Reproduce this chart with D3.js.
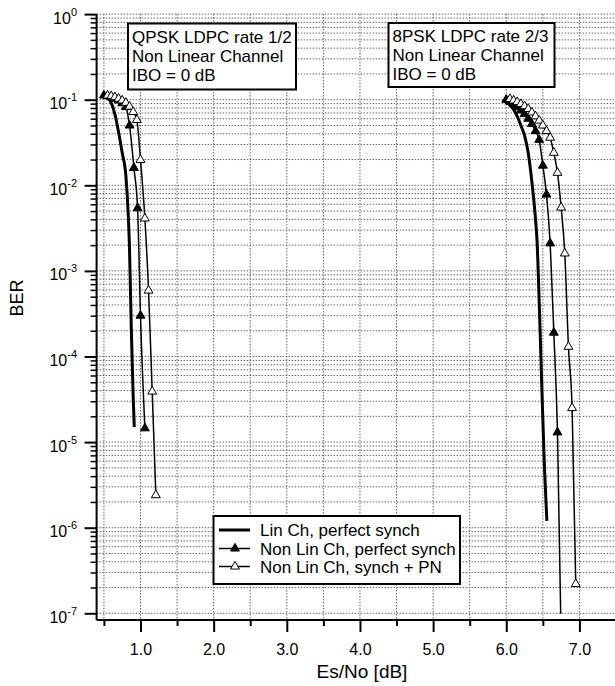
<!DOCTYPE html>
<html>
<head>
<meta charset="utf-8">
<script src="https://cdn.jsdelivr.net/npm/d3@7"></script>
<style>
  body { margin: 0; background: #fff; }
  text { font-family: "Liberation Sans", Arial, sans-serif; fill: #000; }
</style>
</head>
<body>
<div class="chart"></div>
<script>
// QPSK LDPC 1/2 curves
const qpskLinEsNo = [0.5, 0.55, 0.6, 0.65, 0.7, 0.75, 0.8, 0.83, 0.85, 0.875, 0.9, 0.915]
const qpskLinBer = [0.113, 0.106, 0.092, 0.068, 0.042, 0.024, 0.013, 5e-3, 1.8e-3, 2e-4, 3.4e-5, 1.5e-5]

const qpskNlEsNo = [0.5, 0.55, 0.6, 0.65, 0.7, 0.75, 0.8, 0.85, 0.91, 0.96, 1.0, 1.06]
const qpskNlBer = [0.112, 0.110, 0.107, 0.103, 0.098, 0.091, 0.082, 0.05, 0.016, 5.4e-3, 3.0e-4, 1.45e-5]

const qpskPnEsNo = [0.55, 0.6, 0.65, 0.7, 0.75, 0.8, 0.85, 0.9, 0.95, 1.0, 1.06, 1.11, 1.16, 1.21]
const qpskPnBer = [0.112, 0.110, 0.107, 0.103, 0.098, 0.092, 0.083, 0.072, 0.058, 0.0198, 4.1e-3, 5.9e-4, 3.9e-5, 2.4e-6]

// 8PSK LDPC 2/3 curves
const psk8LinEsNo = [5.95, 6.0, 6.05, 6.1, 6.15, 6.2, 6.25, 6.3, 6.35, 6.4, 6.42, 6.455, 6.49, 6.52, 6.555]
const psk8LinBer = [0.1, 0.094, 0.087, 0.077, 0.064, 0.05, 0.038, 0.024, 0.011, 4e-3, 2.3e-3, 3.2e-4, 3.4e-5, 5.6e-6, 1.2e-6]

const psk8NlEsNo = [6.0, 6.05, 6.1, 6.15, 6.2, 6.25, 6.3, 6.35, 6.4, 6.45, 6.5, 6.55, 6.6, 6.65, 6.7, 6.75]
const psk8NlBer = [0.1, 0.095, 0.089, 0.082, 0.075, 0.068, 0.06, 0.052, 0.043, 0.034, 0.017, 7.8e-3, 2.1e-3, 1.9e-4, 1.3e-5, 5e-8]

const psk8PnEsNo = [6.05, 6.1, 6.15, 6.2, 6.25, 6.3, 6.35, 6.4, 6.45, 6.5, 6.55, 6.6, 6.65, 6.7, 6.75, 6.8, 6.85, 6.9, 6.95]
const psk8PnBer = [0.102, 0.098, 0.094, 0.089, 0.084, 0.078, 0.071, 0.064, 0.057, 0.05, 0.043, 0.036, 0.024, 0.014, 5.5e-3, 1.6e-3, 1.3e-4, 2.5e-5, 2.2e-7]

const xTicks = [1, 2, 3, 4, 5, 6, 7]
const xMinorTicks = [0.5, 1.5, 2.5, 3.5, 4.5, 5.5, 6.5, 7.5]
const yExponents = [0, -1, -2, -3, -4, -5, -6, -7]

const legendLabels = ['Lin Ch, perfect synch', 'Non Lin Ch, perfect synch', 'Non Lin Ch, synch + PN']
const boxQpsk = ['QPSK LDPC rate 1/2', 'Non Linear Channel', 'IBO = 0 dB']
const box8psk = ['8PSK LDPC rate 2/3', 'Non Linear Channel', 'IBO = 0 dB']

const svg = d3.select('.chart').append('svg')
  .attr('width', 615)
  .attr('height', 686)

const plotLeft = 96.6, plotRight = 616, plotTop = 14, plotBottom = 620

const x = d3.scaleLinear()
  .domain([0.4, 7.5])
  .range([plotLeft, plotRight])

const y = d3.scaleLog()
  .domain([1e-7, 1])
  .range([613.3, 14.1])

// grid: every 0.5 dB, every 1..9 per decade
const minorY = []
yExponents.forEach(e => {
  for (let k = 1; k < 10; k++) {
    const v = k * Math.pow(10, e - 1)
    if (v >= 1e-7) minorY.push(v)
  }
})
minorY.push(1)

const grid = svg.append('g')
  .attr('stroke', '#666')
  .attr('stroke-width', 1)
  .attr('stroke-dasharray', '1.5,1.5')

grid.selectAll('.gx')
  .data(xTicks.concat(xMinorTicks))
  .enter().append('line')
  .attr('x1', d => x(d)).attr('x2', d => x(d))
  .attr('y1', plotTop).attr('y2', plotBottom)

grid.selectAll('.gy')
  .data(minorY)
  .enter().append('line')
  .attr('x1', plotLeft).attr('x2', plotRight)
  .attr('y1', d => y(d)).attr('y2', d => y(d))

// axes
const xAxis = svg.append('g')
  .attr('transform', `translate(0, ${plotBottom})`)
  .call(d3.axisBottom(x).tickValues(xTicks).tickSize(12).tickFormat(d3.format('.1f')))
xAxis.select('.domain').attr('stroke-width', 2).attr('d', `M${plotLeft},0H${plotRight}`)
xAxis.selectAll('.tick line').attr('stroke-width', 2)
xAxis.selectAll('.tick text')
  .attr('y', 24)
  .attr('dy', '0.71em')
  .style('font-size', '16px')
  .style('font-family', '"Liberation Sans", Arial, sans-serif')

svg.append('g')
  .attr('transform', `translate(0, ${plotBottom})`)
  .call(d3.axisBottom(x).tickValues(xMinorTicks).tickSize(6).tickFormat(''))
  .call(g => g.select('.domain').remove())
  .selectAll('.tick line').attr('stroke-width', 2)

const yAxis = svg.append('g')
  .attr('transform', `translate(${plotLeft}, 0)`)
  .call(d3.axisLeft(y).tickValues(yExponents.map(e => Math.pow(10, e))).tickSize(12).tickFormat(''))
yAxis.select('.domain').attr('stroke-width', 2).attr('d', `M0,${plotTop}V${plotBottom}`)
yAxis.selectAll('.tick line').attr('stroke-width', 2)

svg.append('g')
  .attr('transform', `translate(${plotLeft}, 0)`)
  .call(d3.axisLeft(y).tickValues(minorY.filter(v => Math.abs(Math.log10(v) % 1) > 1e-9)).tickSize(6).tickFormat(''))
  .call(g => g.select('.domain').remove())
  .selectAll('.tick line').attr('stroke-width', 1.5)

const yLabels = svg.append('g')
  .selectAll('text')
  .data(yExponents)
  .enter().append('text')
  .attr('x', 77)
  .attr('y', d => y(Math.pow(10, d)) + 9.5)
  .attr('text-anchor', 'end')
  .style('font-size', '16px')
yLabels.append('tspan').text('10')
yLabels.append('tspan')
  .attr('dy', -8)
  .style('font-size', '11px')
  .text(d => d)

svg.append('text')
  .attr('x', 362)
  .attr('y', 678)
  .attr('text-anchor', 'middle')
  .style('font-size', '19px')
  .text('Es/No [dB]')

svg.append('text')
  .attr('transform', 'translate(23, 298) rotate(-90)')
  .attr('text-anchor', 'middle')
  .style('font-size', '18px')
  .text('BER')

// curves
svg.append('clipPath').attr('id', 'plotclip')
  .append('rect')
  .attr('x', plotLeft).attr('y', 0)
  .attr('width', plotRight - plotLeft).attr('height', y(1e-7) + 0.5)

const plot = svg.append('g').attr('clip-path', 'url(#plotclip)')

const line = d3.line()
  .x(d => x(d[0]))
  .y(d => y(d[1]))
  .curve(d3.curveMonotoneX)

const zip = (a, b) => a.map((v, i) => [v, b[i]])

const series = [
  {pts: zip(qpskLinEsNo, qpskLinBer), w: 3, marker: null},
  {pts: zip(qpskNlEsNo, qpskNlBer), w: 1.5, marker: '#000'},
  {pts: zip(qpskPnEsNo, qpskPnBer), w: 1.5, marker: '#fff'},
  {pts: zip(psk8LinEsNo, psk8LinBer), w: 3, marker: null},
  {pts: zip(psk8NlEsNo, psk8NlBer), w: 1.5, marker: '#000'},
  {pts: zip(psk8PnEsNo, psk8PnBer), w: 1.5, marker: '#fff'}
]

const tri = d3.symbol().type(d3.symbolTriangle).size(34)

series.forEach(s => {
  plot.append('path')
    .attr('d', line(s.pts))
    .attr('fill', 'none')
    .attr('stroke', '#000')
    .attr('stroke-width', s.w)
})
series.filter(s => s.marker).forEach(s => {
  plot.selectAll(null)
    .data(s.pts)
    .enter().append('path')
    .attr('d', tri)
    .attr('transform', d => `translate(${x(d[0])}, ${y(d[1])})`)
    .attr('fill', s.marker)
    .attr('stroke', '#000')
    .attr('stroke-width', 1)
})

// text boxes
function textBox(bx, by, bw, bh, lines, baselines) {
  svg.append('rect')
    .attr('x', bx).attr('y', by)
    .attr('width', bw).attr('height', bh)
    .attr('fill', '#fff')
    .attr('stroke', '#000')
    .attr('stroke-width', 2)
  svg.selectAll(null)
    .data(lines)
    .enter().append('text')
    .attr('x', bx + 4)
    .attr('y', (d, i) => baselines[i])
    .style('font-size', '17px')
    .text(d => d)
}
textBox(128, 23.5, 168, 66, boxQpsk, [42.5, 61.5, 80.5])
textBox(388.5, 23, 166, 64, box8psk, [41.5, 60.5, 79.5])

// legend
const legend = svg.append('g')
legend.append('rect')
  .attr('x', 213.5).attr('y', 516)
  .attr('width', 246.5).attr('height', 68)
  .attr('fill', '#fff')
  .attr('stroke', '#000')
  .attr('stroke-width', 2)

const legendRows = [
  {w: 3, marker: null, cy: 530},
  {w: 1.5, marker: '#000', cy: 548.5},
  {w: 1.5, marker: '#fff', cy: 566.5}
]
legendRows.forEach((r, i) => {
  legend.append('line')
    .attr('x1', 219).attr('x2', 250)
    .attr('y1', r.cy).attr('y2', r.cy)
    .attr('stroke', '#000')
    .attr('stroke-width', r.w)
  if (r.marker) {
    legend.append('path')
      .attr('d', tri)
      .attr('transform', `translate(235, ${r.cy})`)
      .attr('fill', r.marker)
      .attr('stroke', '#000')
  }
  legend.append('text')
    .attr('x', 260)
    .attr('y', r.cy + 6)
    .style('font-size', '17px')
    .text(legendLabels[i])
})
</script>
</body>
</html>
